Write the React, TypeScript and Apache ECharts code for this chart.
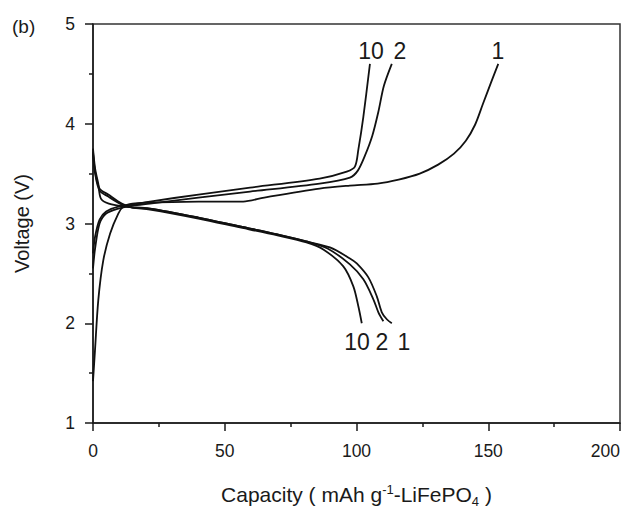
import React, { useEffect, useRef } from "react";
import * as echarts from "echarts";

const xTicks = [0, 50, 100, 150, 200];
const yTicks = [1, 2, 3, 4, 5];

const charge1: [number, number][] = [
  [0, 1.42], [0.76, 1.73], [2, 2.23], [3.9, 2.63], [6.5, 2.9], [9.6, 3.1], [11.5, 3.17],
  [15, 3.2], [21.6, 3.21], [40, 3.22], [57, 3.22], [65, 3.26], [86, 3.35], [97.5, 3.38],
  [108, 3.4], [116, 3.44], [124, 3.5], [131, 3.59], [137, 3.7], [141.5, 3.83],
  [145, 3.99], [148, 4.2], [151, 4.41], [153.8, 4.6],
];
const charge2: [number, number][] = [
  [0, 2.55], [0.8, 2.75], [2.5, 3.0], [5, 3.1], [9.6, 3.15], [15, 3.18], [21.6, 3.2],
  [40, 3.26], [59.6, 3.32], [86, 3.4], [97.5, 3.46], [100.5, 3.53], [103.2, 3.68],
  [106, 3.88], [108.3, 4.12], [110.4, 4.38], [113.4, 4.6],
];
const charge10: [number, number][] = [
  [0, 2.7], [0.8, 2.87], [2.5, 3.04], [5, 3.12], [9.6, 3.17], [15, 3.19], [21.6, 3.22],
  [40, 3.29], [59.6, 3.36], [86, 3.45], [96.3, 3.52], [99.4, 3.57], [100.7, 3.74],
  [102.6, 4.07], [105.1, 4.6],
];
const discharge1: [number, number][] = [
  [0, 3.75], [0.8, 3.55], [2, 3.4], [3, 3.25], [6, 3.2], [12, 3.17], [21.6, 3.15],
  [40, 3.06], [55.8, 2.97], [70, 2.89], [81, 2.82], [89.9, 2.76], [97.5, 2.65],
  [100.1, 2.6], [104.5, 2.46], [107.7, 2.27], [109.6, 2.11], [111.5, 2.04], [113.4, 2.0],
];
const discharge2: [number, number][] = [
  [0, 3.72], [0.8, 3.52], [2.5, 3.35], [5.8, 3.29], [10.9, 3.2], [15, 3.16], [21.6, 3.15],
  [40, 3.06], [55.8, 2.97], [70, 2.89], [81, 2.82], [89, 2.75], [97.5, 2.59],
  [102.6, 2.44], [106.4, 2.24], [108.3, 2.11], [110.2, 2.02],
];
const discharge10: [number, number][] = [
  [0, 3.7], [0.8, 3.5], [2.5, 3.33], [5.8, 3.27], [10.9, 3.19], [15, 3.16], [21.6, 3.14],
  [40, 3.05], [55.8, 2.96], [70, 2.88], [81, 2.81], [87.4, 2.74], [95, 2.57],
  [98.8, 2.37], [100.7, 2.17], [102, 2.0],
];

const curves = [charge1, charge2, charge10, discharge1, discharge2, discharge10];

const FONT = "Liberation Sans, Arial, sans-serif";

export default function App() {
  const ref = useRef<HTMLDivElement>(null);
  useEffect(() => {
    if (!ref.current) return;
    const chart = echarts.init(ref.current, undefined, { renderer: "svg" });
    const axisColor = "#1a1a1a";
    const lbl = (text: string, x: number, y: number) => ({
      type: "text", x, y,
      style: { text, fontSize: 23, fontFamily: FONT, fill: "#1a1a1a", align: "center", verticalAlign: "middle" },
    });
    chart.setOption({
      animation: false,
      backgroundColor: "#fff",
      grid: {
        left: 93, right: 11, top: 24, bottom: 87,
        containLabel: false,
        outerBoundsMode: "none",
        show: true, borderColor: "#333", borderWidth: 1.5, backgroundColor: "transparent",
      },
      xAxis: {
        type: "value", min: xTicks[0], max: xTicks[xTicks.length - 1], interval: 50,
        axisLine: { show: true, lineStyle: { color: axisColor, width: 1.5 } },
        axisTick: { show: true, inside: false, length: 8, lineStyle: { color: axisColor, width: 1.5 } },
        minorTick: { show: true, splitNumber: 2, length: 4, lineStyle: { color: axisColor, width: 1.5 } },
        splitLine: { show: false },
        axisLabel: { color: "#1a1a1a", fontSize: 17.5, fontFamily: FONT, margin: 19, alignMaxLabel: "right" },
        name: "Capacity ( mAh g{sup|-1}-LiFePO{sub|4} )",
        nameLocation: "middle",
        nameGap: 58,
        nameTextStyle: {
          color: "#1a1a1a", fontSize: 21, fontFamily: FONT,
          rich: {
            sup: { fontSize: 13, fontFamily: FONT, color: "#1a1a1a", padding: [0, 0, 10, 0] },
            sub: { fontSize: 13, fontFamily: FONT, color: "#1a1a1a", padding: [14, 0, 0, 0] },
          },
        },
      },
      yAxis: {
        type: "value", min: yTicks[0], max: yTicks[yTicks.length - 1], interval: 1,
        axisLine: { show: true, lineStyle: { color: axisColor, width: 1.5 } },
        axisTick: { show: true, inside: false, length: 8, lineStyle: { color: axisColor, width: 1.5 } },
        minorTick: { show: true, splitNumber: 2, length: 4, lineStyle: { color: axisColor, width: 1.5 } },
        splitLine: { show: false },
        axisLabel: { color: "#1a1a1a", fontSize: 17.5, fontFamily: FONT, margin: 18 },
        name: "Voltage (V)",
        nameLocation: "middle",
        nameGap: 61,
        nameRotate: 90,
        nameTextStyle: { color: "#1a1a1a", fontSize: 20, fontFamily: FONT },
      },
      series: curves.map((d) => ({
        type: "line",
        data: d,
        smooth: 0.3,
        showSymbol: false,
        symbol: "none",
        lineStyle: { color: "#111", width: 1.8 },
        silent: true,
      })),
      graphic: [
        { type: "text", left: 12, top: 17, style: { text: "(b)", fontSize: 19, fontFamily: FONT, fill: "#1a1a1a" } },
        lbl("10", 371, 51),
        lbl("2", 400, 51),
        lbl("1", 498, 51),
        lbl("10", 357, 342),
        lbl("2", 382, 342),
        lbl("1", 404, 342),
      ],
    });
    return () => chart.dispose();
  }, []);
  return <div ref={ref} style={{ width: 631, height: 510, position: "absolute", left: 0, top: 0 }} />;
}
